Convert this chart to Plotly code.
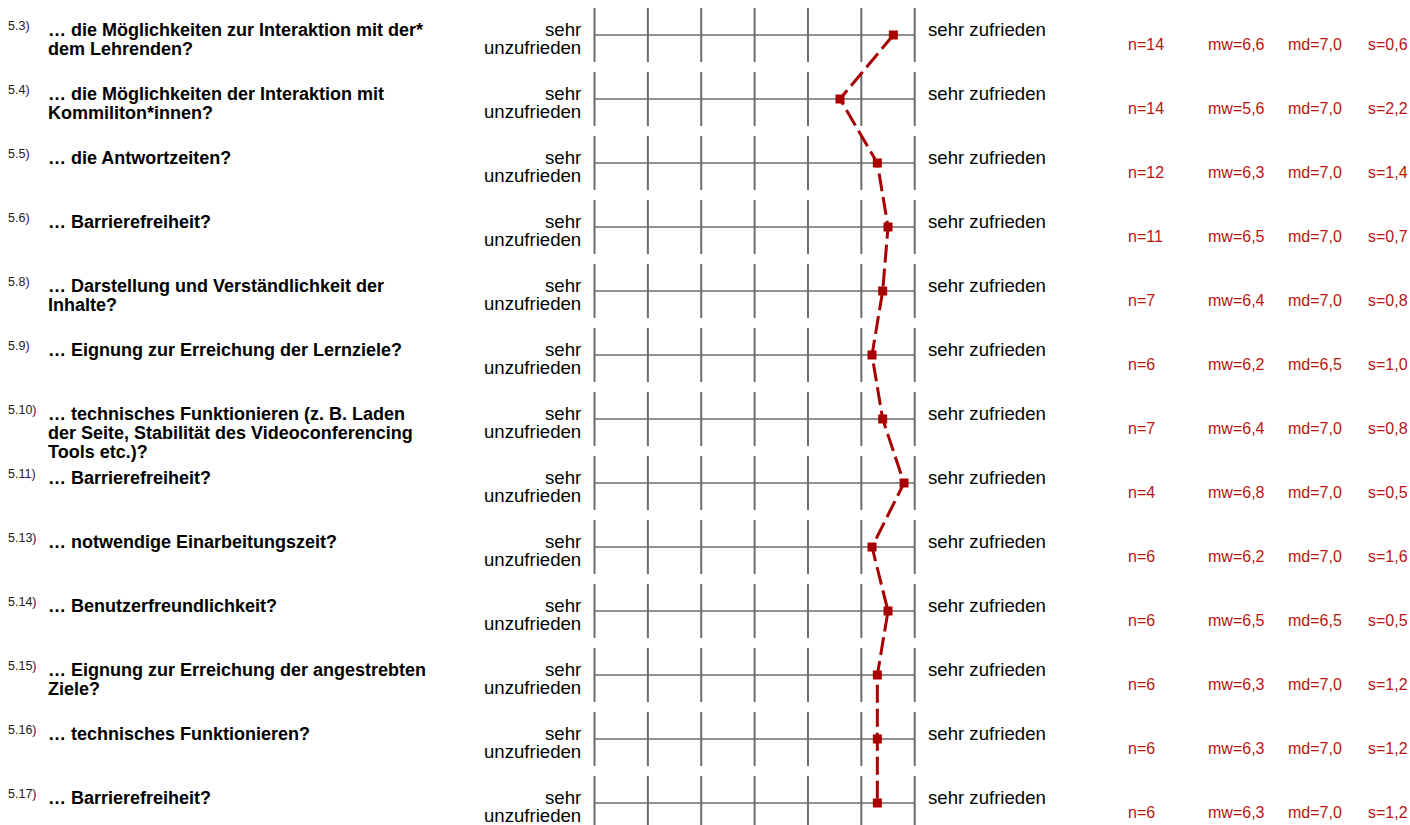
import plotly.graph_objects as go

# --- data -------------------------------------------------------------
item_ids = ["5.3)", "5.4)", "5.5)", "5.6)", "5.8)", "5.9)", "5.10)",
            "5.11)", "5.13)", "5.14)", "5.15)", "5.16)", "5.17)"]
questions = [
    ["… die Möglichkeiten zur Interaktion mit der*", "dem Lehrenden?"],
    ["… die Möglichkeiten der Interaktion mit", "Kommiliton*innen?"],
    ["… die Antwortzeiten?"],
    ["… Barrierefreiheit?"],
    ["… Darstellung und Verständlichkeit der", "Inhalte?"],
    ["… Eignung zur Erreichung der Lernziele?"],
    ["… technisches Funktionieren (z. B. Laden",
     "der Seite, Stabilität des Videoconferencing", "Tools etc.)?"],
    ["… Barrierefreiheit?"],
    ["… notwendige Einarbeitungszeit?"],
    ["… Benutzerfreundlichkeit?"],
    ["… Eignung zur Erreichung der angestrebten", "Ziele?"],
    ["… technisches Funktionieren?"],
    ["… Barrierefreiheit?"],
]
n_values = [14, 14, 12, 11, 7, 6, 7, 4, 6, 6, 6, 6, 6]
mean_values = [6.6, 5.6, 6.3, 6.5, 6.4, 6.2, 6.4, 6.8, 6.2, 6.5, 6.3, 6.3, 6.3]
median_values = [7.0, 7.0, 7.0, 7.0, 7.0, 6.5, 7.0, 7.0, 7.0, 6.5, 7.0, 7.0, 7.0]
sd_values = [0.6, 2.2, 1.4, 0.7, 0.8, 1.0, 0.8, 0.5, 1.6, 0.5, 1.2, 1.2, 1.2]
left_pole = ["sehr", "unzufrieden"]
right_pole = "sehr zufrieden"
scale_points = [1, 2, 3, 4, 5, 6, 7]

# --- layout constants -------------------------------------------------
W, H = 1410, 825
FONT = "Liberation Sans, Arial, Helvetica, sans-serif"
GRID = "#6b6b6b"
RED_LINE = "#a80000"
RED_TEXT = "#b81414"
X_PIX_1, X_PIX_7 = 594.5, 914.7      # pixel position of scale points 1 and 7
ROW0, ROW_STEP = 35, 64               # pixel centre of first row, row pitch
TICK_HALF = 27 / ROW_STEP             # half height of the vertical ticks

px_per_unit = (X_PIX_7 - X_PIX_1) / 6
x_range = [1 - X_PIX_1 / px_per_unit, 1 + (W - X_PIX_1) / px_per_unit]
y_range = [(H - ROW0) / ROW_STEP, -ROW0 / ROW_STEP]

n_rows = len(item_ids)
rows = list(range(n_rows))


def fmt(v):
    return f"{v:.1f}".replace(".", ",")


fig = go.Figure()

# profile line through the means
fig.add_trace(go.Scatter(
    x=mean_values, y=rows, mode="lines+markers",
    line=dict(color=RED_LINE, width=3, dash="18px,6px"),
    marker=dict(symbol="square", size=9, color=RED_LINE),
    hoverinfo="skip", showlegend=False,
))

shapes = []
annotations = []


def text(x_px, row, s, dy, size, anchor="left", color="#000", bold=False):
    annotations.append(dict(
        xref="paper", yref="y", x=x_px / W, y=row,
        text=f"<b>{s}</b>" if bold else s,
        showarrow=False, xanchor=anchor, yanchor="middle",
        yshift=-dy, borderpad=0, borderwidth=0,
        font=dict(family=FONT, size=size, color=color),
    ))


for r in rows:
    # scale grid for this row
    shapes.append(dict(type="line", xref="x", yref="y", x0=1, x1=7, y0=r, y1=r,
                       line=dict(color=GRID, width=1.5), layer="below"))
    for p in scale_points:
        shapes.append(dict(type="line", xref="x", yref="y", x0=p, x1=p,
                           y0=r - TICK_HALF, y1=r + TICK_HALF,
                           line=dict(color=GRID, width=2), layer="below"))

    # item number and question text
    text(8, r, item_ids[r], -9.5, 12.5, color="#222")
    for k, line in enumerate(questions[r]):
        text(48, r, line, -5.2 + 19 * k, 18, bold=True)

    # poles
    text(581, r, left_pole[0], -5.2, 18.6, anchor="right")
    text(581, r, left_pole[1], 12.8, 18.6, anchor="right")
    text(928, r, right_pole, -5.2, 18.6)

    # statistics
    text(1128, r, f"n={n_values[r]}", 9, 16, color=RED_TEXT)
    text(1208, r, f"mw={fmt(mean_values[r])}", 9, 16, color=RED_TEXT)
    text(1288, r, f"md={fmt(median_values[r])}", 9, 16, color=RED_TEXT)
    text(1368, r, f"s={fmt(sd_values[r])}", 9, 16, color=RED_TEXT)

fig.update_layout(
    width=W, height=H,
    margin=dict(l=0, r=0, t=0, b=0),
    paper_bgcolor="white", plot_bgcolor="white",
    xaxis=dict(range=x_range, visible=False, fixedrange=True),
    yaxis=dict(range=y_range, visible=False, fixedrange=True),
    shapes=shapes, annotations=annotations,
    showlegend=False,
)

fig.write_html("out.html", config={"displayModeBar": False})
